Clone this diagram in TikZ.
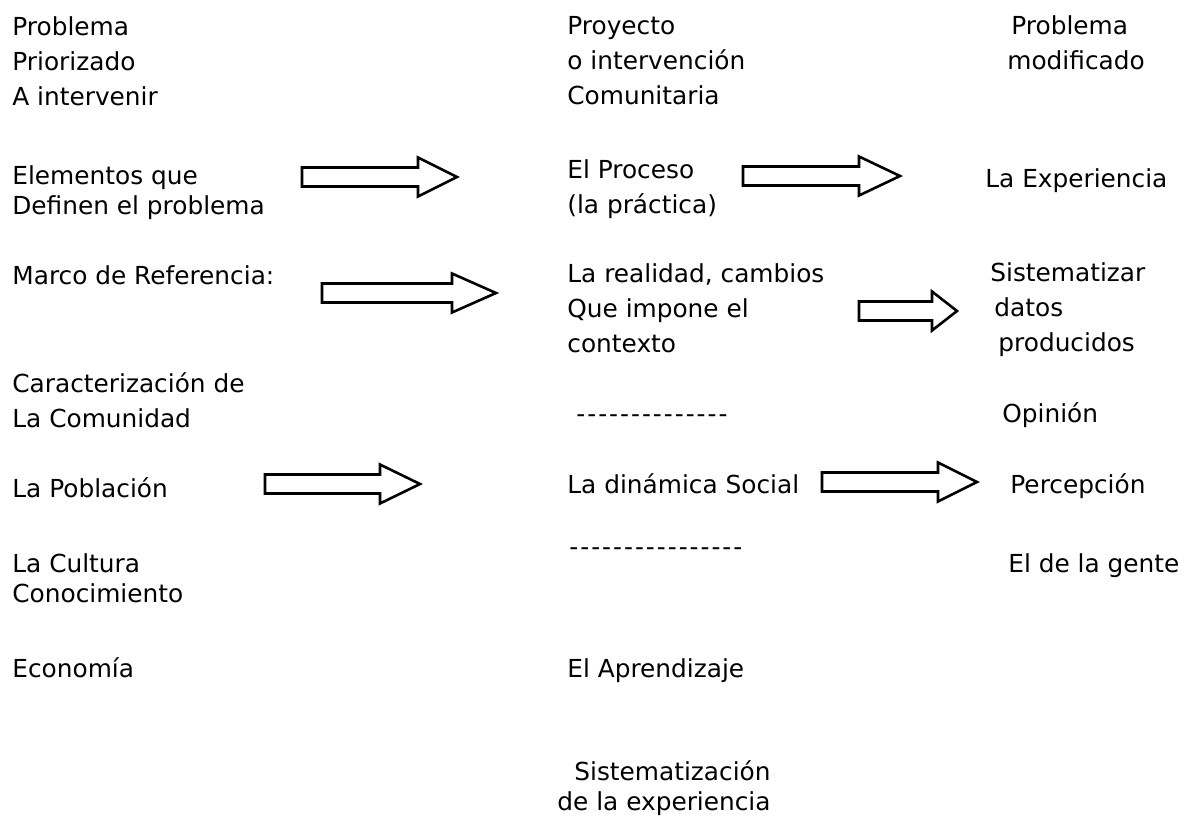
\documentclass[tikz,border=0pt]{standalone}
\usepackage{fontspec}
\setmainfont{DejaVu Sans}
\newfontfamily\guionfont{DejaVu Sans}[LetterSpace=8]
\usetikzlibrary{calc}
\newcommand{\flecha}[3]{\draw [bloque] ($(#1)+(0,-9.5)$) -- ($(#2)+(-#3,-9.5)$) -- ($(#2)+(-#3,-19.5)$) -- (#2) -- ($(#2)+(-#3,19.5)$) -- ($(#2)+(-#3,9.5)$) -- ($(#1)+(0,9.5)$) -- cycle;}

\begin{document}
\begin{tikzpicture}[x=0.5pt, y=-0.5pt,
	texto/.style={anchor=base west, inner sep=0pt, align=left, font=\fontsize{12.4}{17.5}\selectfont},
	textojunto/.style={texto, font=\fontsize{12.4}{15}\selectfont},
	bloque/.style={draw, line width=1.3pt, line join=miter}]
	\useasboundingbox (0,0) rectangle (1194,820);
	\node [texto] (iz1) at (12,105) {Problema\\Priorizado\\A intervenir};
	\node [textojunto] (iz2) at (12,214) {Elementos que\\Definen el problema};
	\node [texto] (iz3) at (12,284) {Marco de Referencia:};
	\node [texto] (iz4) at (12,427) {Caracterización de\\La Comunidad};
	\node [texto] (iz5) at (12,497) {La Población};
	\node [textojunto] (iz6) at (12,602) {La Cultura\\Conocimiento};
	\node [texto] (iz7) at (12,677) {Economía};
	\node [texto] (ce1) at (567,104) {Proyecto\\o intervención\\Comunitaria};
	\node [texto] (ce2) at (567,213) {El Proceso\\(la práctica)};
	\node [texto] (ce3) at (567,352) {La realidad, cambios\\Que impone el\\contexto};
	\node [texto] (ce4) at (576,422) {\guionfont --------------};
	\node [texto] (ce5) at (567,493) {La dinámica Social};
	\node [texto] (ce6) at (569,555) {\guionfont ----------------};
	\node [texto] (ce7) at (567,677) {El Aprendizaje};
	\node [textojunto] (ce8) at (557,810) {\hspace*{8.5pt}Sistematización\\de la experiencia};
	\node [texto] (de1) at (1007,69) {\hspace*{2pt}Problema\\modificado};
	\node [texto] (de2) at (985,187) {La Experiencia};
	\node [texto] (de3) at (990,351) {Sistematizar\\\hspace*{2pt}datos\\\hspace*{4pt}producidos};
	\node [texto] (de4) at (1002,422) {Opinión};
	\node [texto] (de5) at (1010,493) {Percepción};
	\node [texto] (de6) at (1008,572) {El de la gente};
	\coordinate (f1a) at (302,177);
	\coordinate (f1b) at (457,177);
	\coordinate (f2a) at (743,176);
	\coordinate (f2b) at (900,176);
	\coordinate (f3a) at (322,293);
	\coordinate (f3b) at (496,293);
	\coordinate (f4a) at (859,311);
	\coordinate (f4b) at (957,311);
	\coordinate (f5a) at (822,482);
	\coordinate (f5b) at (977,482);
	\coordinate (f6a) at (265,484);
	\coordinate (f6b) at (420,484);
	\flecha{f1a}{f1b}{39}
	\flecha{f2a}{f2b}{41}
	\flecha{f3a}{f3b}{44}
	\flecha{f4a}{f4b}{25}
	\flecha{f5a}{f5b}{39}
	\flecha{f6a}{f6b}{40}
\end{tikzpicture}
\end{document}
